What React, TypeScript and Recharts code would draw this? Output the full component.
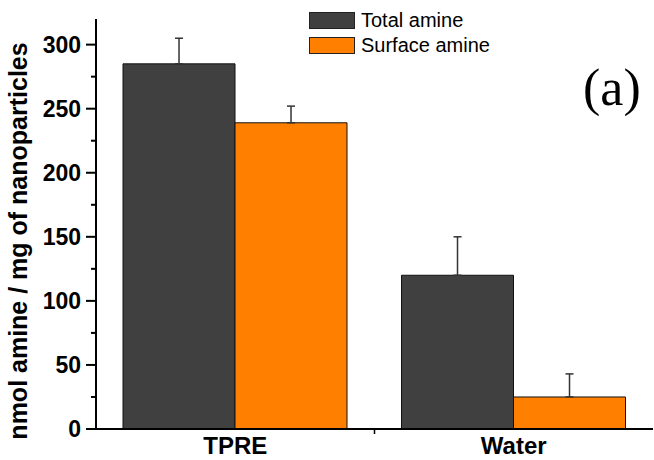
import React from "react";
import { BarChart, Bar, XAxis, YAxis, ErrorBar } from "recharts";

const categories = ["TPRE", "Water"];
const totalAmine = [285, 120];
const totalErr = [20, 30];
const surfaceAmine = [239, 25];
const surfaceErr = [13, 18];
const yTicks = [0, 25, 50, 75, 100, 125, 150, 175, 200, 225, 250, 275, 300];
const yLabel = "nmol amine / mg of nanoparticles";
const seriesNames = ["Total amine", "Surface amine"];
const panelTag = "(a)";

const data = categories.map((c, i) => ({
  name: c,
  total: totalAmine[i],
  totalErr: [0, totalErr[i]],
  surface: surfaceAmine[i],
  surfaceErr: [0, surfaceErr[i]],
}));

const COLORS = ["#404040", "#FF8000"];
const SANS = "'Liberation Sans', Arial, sans-serif";

const YTick = (props: any) => {
  const { x, y, payload } = props;
  const major = payload.value % 50 === 0;
  const len = major ? 10 : 5;
  return (
    <g>
      <line x1={x} x2={x - len} y1={y} y2={y} stroke="#000" strokeWidth={2} />
      {major && (
        <text
          x={x - len - 5}
          y={y}
          dy="0.36em"
          textAnchor="end"
          fontFamily={SANS}
          fontWeight="bold"
          fontSize={23}
          fill="#000"
        >
          {payload.value}
        </text>
      )}
    </g>
  );
};

const XTick = (props: any) => {
  const { x, y, payload, index } = props;
  const off = payload.offset || 0;
  return (
    <g>
      {index === 0 && (
        <line x1={x + off} x2={x + off} y1={y} y2={y + 5} stroke="#000" strokeWidth={1.5} />
      )}
      <text
        x={x}
        y={y + 25}
        textAnchor="middle"
        fontFamily={SANS}
        fontWeight="bold"
        fontSize={24}
        fill="#000"
      >
        {payload.value}
      </text>
    </g>
  );
};

const LegendBox = () => (
  <div
    style={{
      position: "absolute",
      left: 309,
      top: 8,
      fontFamily: SANS,
      fontSize: 20,
      color: "#000",
      pointerEvents: "none",
    }}
  >
    {seriesNames.map((n, i) => (
      <div key={n} style={{ display: "flex", alignItems: "center", height: 25 }}>
        <div
          style={{
            width: 44,
            height: 15,
            background: COLORS[i],
            border: "1px solid #222",
            marginRight: 6,
          }}
        />
        <span>{n}</span>
      </div>
    ))}
  </div>
);

const YLabel = () => (
  <text
    x={27}
    y={241}
    transform="rotate(-90 27 241)"
    textAnchor="middle"
    fontFamily={SANS}
    fontWeight="bold"
    fontSize={25}
    fill="#000"
  >
    {yLabel}
  </text>
);

export default function App() {
  return (
    <div style={{ position: "absolute", left: 0, top: 0, width: 654, height: 460, background: "#fff" }}>
      <BarChart
        width={654}
        height={460}
        data={data}
        margin={{ top: 19, right: 1, left: 0, bottom: 0 }}
        barCategoryGap="9.7%"
        barGap={0}
      >
        <XAxis
          dataKey="name"
          height={31}
          axisLine={{ stroke: "#000", strokeWidth: 2 }}
          tickLine={false}
          tickSize={0}
          tickMargin={0}
          tick={<XTick />}
          interval={0}
        />
        <YAxis
          width={96}
          domain={[0, 320]}
          ticks={yTicks}
          interval={0}
          axisLine={{ stroke: "#000", strokeWidth: 2 }}
          tickLine={false}
          tickSize={0}
          tickMargin={0}
          tick={<YTick />}
          label={<YLabel />}
        />
        <Bar dataKey="total" name={seriesNames[0]} fill={COLORS[0]} stroke="#111" strokeWidth={1} isAnimationActive={false}>
          <ErrorBar dataKey="totalErr" width={4} stroke="#333" strokeWidth={1.5} direction="y" />
        </Bar>
        <Bar dataKey="surface" name={seriesNames[1]} fill={COLORS[1]} stroke="#111" strokeWidth={1} isAnimationActive={false}>
          <ErrorBar dataKey="surfaceErr" width={4} stroke="#333" strokeWidth={1.5} direction="y" />
        </Bar>
      </BarChart>
      <LegendBox />
      <svg
        width={654}
        height={460}
        style={{ position: "absolute", left: 0, top: 0, pointerEvents: "none" }}
      >
        <text x={583} y={105} fontFamily="'Liberation Serif', 'Times New Roman', serif" fontSize={52} fill="#000">
          {panelTag}
        </text>
      </svg>
    </div>
  );
}
